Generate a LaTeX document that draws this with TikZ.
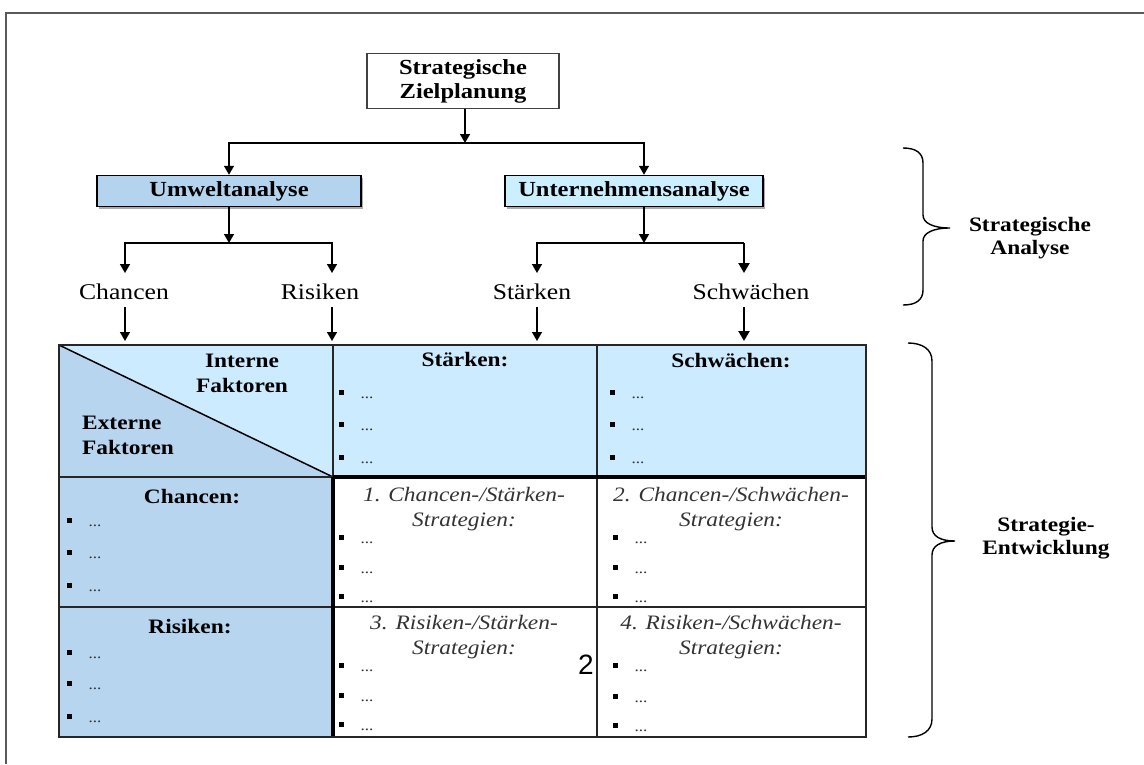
\documentclass[tikz,border=0pt]{standalone}
\usepackage{fontspec}
\setmainfont{Liberation Serif}[FakeStretch=1.14]
\newfontfamily\sansf{Liberation Sans}
\usetikzlibrary{arrows.meta,shadows}
\definecolor{lightblue}{HTML}{CCEBFF}
\definecolor{midblue}{HTML}{B8D5F0}
\definecolor{boxblue}{HTML}{B4D3EF}
\definecolor{boxlight}{HTML}{CCEFFF}
\newcommand\bulitem[3]{%
  \fill (#1-2.5,#2-2.5) rectangle (#1+2.5,#2+2.5);
  \node[dots] (#3) at (#1+26,#2+6) {...};}
\begin{document}
\begin{tikzpicture}[x=1pt,y=-1pt,
  arr/.style={-{Triangle[width=10pt,length=9pt]}, line width=1.4},
  arrthick/.style={-{Triangle[width=11pt,length=10pt]}, line width=2.2},
  title/.style={font=\fontsize{21.5}{24}\selectfont\bfseries, align=center, inner sep=0pt},
  sbox/.style={draw=black, line width=1.5, drop shadow={shadow xshift=2pt, shadow yshift=-2pt, fill=black!65}},
  lab/.style={font=\fontsize{22.5}{24}\selectfont, inner sep=0pt},
  hd/.style={font=\fontsize{20.5}{24}\selectfont\bfseries, inner sep=0pt},
  fac/.style={font=\fontsize{20.5}{25}\selectfont\bfseries, inner sep=0pt},
  strat/.style={font=\fontsize{20.5}{25}\selectfont\itshape, align=center, text=black!80, inner sep=0pt},
  dots/.style={font=\fontsize{15}{15}\selectfont, text=black!80, inner sep=0pt},
  side/.style={font=\fontsize{20.5}{23}\selectfont\bfseries, align=center, inner sep=0pt},
  tline/.style={line width=1.8, draw=black!85},
  brace/.style={line width=1.4}]
\useasboundingbox (0,0) rectangle (1144,764);
\fill[white] (0,0) rectangle (1144,764);
% outer frame
\draw[line width=2, black!65] (6,764) -- (6,13) -- (1144,13);

% top boxes
\node[title, draw=black!75, line width=1.5, minimum width=192pt, minimum height=55pt] (ziel) at (463,81) {Strategische\\Zielplanung};
\node[title, sbox, fill=boxblue, minimum width=264pt, minimum height=31pt] (umwelt) at (229,191) {Umweltanalyse};
\node[title, sbox, fill=boxlight, minimum width=258pt, minimum height=31pt] (unt) at (634,191) {Unternehmensanalyse};

\coordinate (z1) at (465,143);
\draw[arr] (ziel.south -| z1) -- (z1);
\draw[arr] (z1) -| (umwelt.north);
\draw[arr] (z1) -| ([xshift=10pt]unt.north);

% second level
\coordinate (u1) at (229,243);
\coordinate (t1) at (644,243);
\coordinate (ch1) at (125,273);
\coordinate (ri1) at (332,273);
\coordinate (st1) at (537,273);
\coordinate (sw1) at (744,273);
\draw[arr] (umwelt.south) -- (u1);
\draw[arr] ([xshift=10pt]unt.south) -- (t1);
\draw[arr] (u1) -| (ch1);
\draw[arr] (u1) -| (ri1);
\draw[arr] (t1) -| (st1);
\draw[line width=1.4] (t1) -- (sw1 |- t1);
\draw[arrthick] (sw1 |- t1) -- (sw1);

\node[lab] (chL) at (124,292) {Chancen};
\node[lab] (riL) at (320,292) {Risiken};
\node[lab] (stL) at (532,292) {Stärken};
\node[lab] (swL) at (751,292) {Schwächen};

\coordinate (ch2) at (125,307); \coordinate (ch3) at (125,341);
\coordinate (ri2) at (332,307); \coordinate (ri3) at (332,341);
\coordinate (st2) at (537,307); \coordinate (st3) at (537,341);
\coordinate (sw2) at (744,307); \coordinate (sw3) at (744,341);
\draw[arr] (ch2) -- (ch3);
\draw[arr] (ri2) -- (ri3);
\draw[arr] (st2) -- (st3);
\draw[arrthick] (sw2) -- (sw3);

% table fills
\fill[lightblue] (333,345) rectangle (866,477);
\fill[lightblue] (59,345) -- (333,345) -- (333,477) -- cycle;
\fill[midblue] (59,345) -- (333,477) -- (59,477) -- cycle;
\fill[midblue] (59,477) rectangle (333,737);
% table lines
\draw[line width=1.5] (59,345) -- (333,477);
\draw[tline] (333,345) -- (333,737);
\draw[tline] (597,345) -- (597,737);
\draw[tline] (59,477) -- (866,477);
\draw[tline] (59,607) -- (866,607);
\draw[line width=3.2] (333,477) -- (866,477);
\draw[line width=3.2] (333,477) -- (333,737);
\draw[tline] (59,345) rectangle (866,737);

% header texts
\node[fac, align=center] (intern) at (242,373) {Interne\\Faktoren};
\node[fac, align=left, anchor=west] (extern) at (82,435) {Externe\\Faktoren};
\node[hd] (stH) at (465,360) {Stärken:};
\node[hd] (swH) at (731,361) {Schwächen:};
\node[hd] (chH) at (192,497) {Chancen:};
\node[hd] (riH) at (190,627) {Risiken:};
\node[strat] (s1) at (464,509) {1. Chancen-/Stärken-\\Strategien:};
\node[strat] (s2) at (731,509) {2. Chancen-/Schwächen-\\Strategien:};
\node[strat] (s3) at (464,637) {3. Risiken-/Stärken-\\Strategien:};
\node[strat] (s4) at (731,637) {4. Risiken-/Schwächen-\\Strategien:};
\node[font=\sansf\fontsize{28}{28}\selectfont, inner sep=0pt] (pnum) at (586,665) {2};

% bullets
\bulitem{341}{392}{a1}\bulitem{341}{424}{a2}\bulitem{341}{457}{a3}
\bulitem{612}{392}{b1}\bulitem{612}{424}{b2}\bulitem{612}{457}{b3}
\bulitem{69}{520}{c1}\bulitem{69}{552}{c2}\bulitem{69}{585}{c3}
\bulitem{341}{537}{d1}\bulitem{341}{567}{d2}\bulitem{341}{596}{d3}
\bulitem{615}{537}{e1}\bulitem{615}{567}{e2}\bulitem{615}{596}{e3}
\bulitem{69}{652}{f1}\bulitem{69}{683}{f2}\bulitem{69}{716}{f3}
\bulitem{341}{665}{g1}\bulitem{341}{695}{g2}\bulitem{341}{724}{g3}
\bulitem{615}{665}{h1}\bulitem{615}{696}{h2}\bulitem{615}{725}{h3}

% braces
\draw[brace] (903,148) .. controls (916,148) and (923,153) .. (923,163) -- (923,215)
  .. controls (923,223) and (933,228) .. (950,228)
  .. controls (933,228) and (923,233) .. (923,241) -- (923,290)
  .. controls (923,300) and (916,305) .. (903,305);
\node[side] (anaL) at (1030,238) {Strategische\\Analyse};
\draw[brace] (908,343) .. controls (922,343) and (932,349) .. (932,361) -- (932,527)
  .. controls (932,536) and (940,541) .. (955,541)
  .. controls (940,541) and (932,546) .. (932,555) -- (932,719)
  .. controls (932,731) and (922,737) .. (908,737);
\node[side] (entL) at (1046,538) {Strategie-\\Entwicklung};
\end{tikzpicture}
\end{document}
